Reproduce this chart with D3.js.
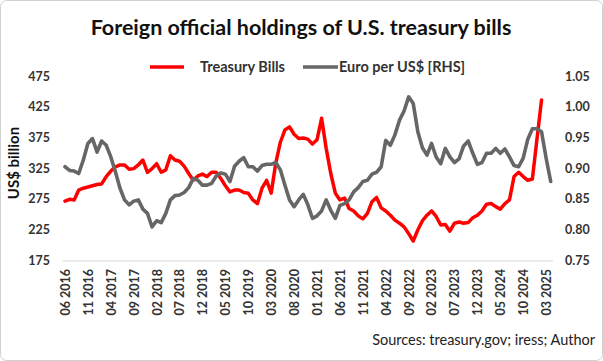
<!DOCTYPE html>
<html><head><meta charset="utf-8">
<script src="https://cdn.jsdelivr.net/npm/d3@7"></script>
<style>body{margin:0;background:#fff}svg{display:block}</style>
</head><body><svg id="c" width="603" height="361"></svg>
<script>
const categories = [
"06 2016","07 2016","08 2016","09 2016","10 2016","11 2016","12 2016",
"01 2017","02 2017","03 2017","04 2017","05 2017","06 2017","07 2017","08 2017","09 2017","10 2017","11 2017","12 2017",
"01 2018","02 2018","03 2018","04 2018","05 2018","06 2018","07 2018","08 2018","09 2018","10 2018","11 2018","12 2018",
"01 2019","02 2019","03 2019","04 2019","05 2019","06 2019","07 2019","08 2019","09 2019","10 2019","11 2019","12 2019",
"01 2020","02 2020","03 2020","04 2020","05 2020","06 2020","07 2020","08 2020","09 2020","10 2020","11 2020","12 2020",
"01 2021","02 2021","03 2021","04 2021","05 2021","06 2021","07 2021","08 2021","09 2021","10 2021","11 2021","12 2021",
"01 2022","02 2022","03 2022","04 2022","05 2022","06 2022","07 2022","08 2022","09 2022","10 2022","11 2022","12 2022",
"01 2023","02 2023","03 2023","04 2023","05 2023","06 2023","07 2023","08 2023","09 2023","10 2023","11 2023","12 2023",
"01 2024","02 2024","03 2024","04 2024","05 2024","06 2024","07 2024","08 2024","09 2024","10 2024","11 2024","12 2024",
"01 2025","02 2025","03 2025","04 2025"];

const treasuryBills = [
271,274,273,289,292,294,296,298,299,311,320,327,330,330,323,324,330,338,318,324,
332,318,322,345,338,336,328,316,305,312,315,311,318,318,308,296,286,289,289,285,
284,273,267,292,305,284,333,367,387,392,380,373,374,372,364,371,406,357,316,284,
273,276,259,255,247,242,251,270,277,260,255,248,240,235,229,218,206,224,239,248,
255,246,232,233,222,235,237,235,236,244,248,255,266,267,262,258,267,273,311,318,
311,305,307,372,436,null,null];

const euroPerUsd = [
0.902,0.896,0.895,0.891,0.913,0.940,0.948,0.926,0.944,0.937,0.918,0.894,0.867,0.848,0.840,0.846,0.848,0.833,0.826,0.804,
0.814,0.811,0.826,0.848,0.855,0.856,0.860,0.868,0.883,0.880,0.872,0.872,0.875,0.887,0.892,0.890,0.878,0.903,0.911,0.917,
0.902,0.902,0.895,0.904,0.906,0.906,0.909,0.897,0.872,0.848,0.837,0.848,0.857,0.840,0.818,0.822,0.830,0.848,0.831,0.818,
0.839,0.842,0.848,0.861,0.868,0.878,0.880,0.890,0.893,0.902,0.945,0.937,0.954,0.978,0.993,1.016,1.005,0.959,0.933,0.921,
0.940,0.918,0.907,0.932,0.918,0.909,0.915,0.936,0.944,0.924,0.906,0.909,0.924,0.924,0.932,0.924,0.931,0.918,0.904,0.902,
0.916,0.947,0.964,0.964,0.959,0.916,0.878];

const leftTicks = [175,225,275,325,375,425,475];
const rightTicks = [0.75,0.80,0.85,0.90,0.95,1.00,1.05];
const xTickLabels = categories.filter((d,i)=>i%5===0);

const svg = d3.select("#c");
const FONT = "Lato, 'Open Sans', sans-serif";

svg.append("rect").attr("x",0.5).attr("y",0.5).attr("width",602).attr("height",360)
  .attr("rx",6).attr("fill","#fff").attr("stroke","#d0d0d0");

const x = d3.scalePoint().domain(categories).range([62.7,553]).padding(0.5);
const yL = d3.scaleLinear().domain([175,475]).range([260,76]);
const yR = d3.scaleLinear().domain([0.75,1.05]).range([260,76]);

// title
svg.append("text").attr("x",301).attr("y",35).attr("text-anchor","middle")
  .attr("font-family",FONT).attr("font-weight","bold").attr("font-size",21.5)
  .attr("fill","#111").text("Foreign official holdings  of U.S. treasury bills");

// legend
const lg = svg.append("g").attr("font-family",FONT).attr("font-weight","bold").attr("font-size",14.5).attr("fill","#333");
lg.append("line").attr("x1",150).attr("x2",184).attr("y1",67).attr("y2",67).attr("stroke","#ff0000").attr("stroke-width",3.5);
lg.append("text").attr("x",200).attr("y",72).text("Treasury Bills");
lg.append("line").attr("x1",303).attr("x2",338).attr("y1",67).attr("y2",67).attr("stroke","#666666").attr("stroke-width",3.5);
lg.append("text").attr("x",339).attr("y",72).text("Euro per US$ [RHS]");

// axes
const axL = svg.append("g").attr("transform","translate(50,0)")
  .call(d3.axisLeft(yL).tickValues(leftTicks).tickSize(0).tickPadding(0));
const axR = svg.append("g").attr("transform","translate(565,0)")
  .call(d3.axisRight(yR).tickValues(rightTicks).tickSize(0).tickPadding(0).tickFormat(d3.format(".2f")));
const axB = svg.append("g").attr("transform","translate(0,261)")
  .call(d3.axisBottom(x).tickValues(xTickLabels).tickSize(0).tickPadding(0));
[axL,axR,axB].forEach(a=>{
  a.select(".domain").remove();
  a.selectAll("text").attr("font-family",FONT).attr("font-weight","bold").attr("font-size",12.5).attr("fill","#333");
});
axB.selectAll("text").attr("transform","rotate(-90)").attr("text-anchor","end")
  .attr("x",-8).attr("y",0).attr("dy","0.35em");
svg.append("line").attr("x1",62.7).attr("x2",553).attr("y1",261).attr("y2",261).attr("stroke","#d9d9d9").attr("stroke-width",1);

// y title
svg.append("text").attr("transform","translate(19,163) rotate(-90)").attr("text-anchor","middle")
  .attr("font-family",FONT).attr("font-weight","bold").attr("font-size",15).attr("fill","#111").text("US$ billion");

// lines
const lineL = d3.line().defined(d=>d[1]!=null).x(d=>x(d[0])).y(d=>yL(d[1]));
const lineR = d3.line().defined(d=>d[1]!=null).x(d=>x(d[0])).y(d=>yR(d[1]));
svg.append("path").datum(categories.map((c,i)=>[c,treasuryBills[i]]))
  .attr("d",lineL).attr("fill","none").attr("stroke","#ff0000").attr("stroke-width",3.5)
  .attr("stroke-linejoin","round").attr("stroke-linecap","round");
svg.append("path").datum(categories.map((c,i)=>[c,euroPerUsd[i]]))
  .attr("d",lineR).attr("fill","none").attr("stroke","#666666").attr("stroke-width",3.6)
  .attr("stroke-linejoin","round").attr("stroke-linecap","round");

// source
svg.append("text").attr("x",595).attr("y",345).attr("text-anchor","end")
  .attr("font-family",FONT).attr("font-size",14.5).attr("fill","#222")
  .text("Sources: treasury.gov; iress; Author");
</script></body></html>
